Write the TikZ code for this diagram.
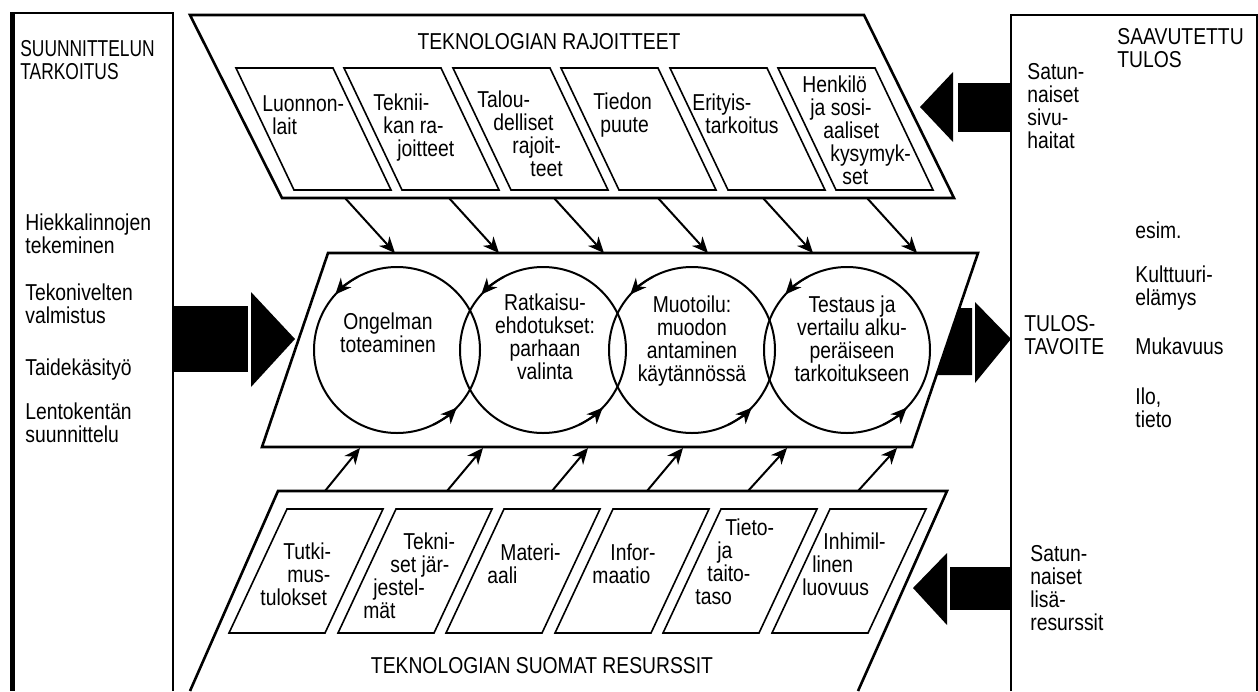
\documentclass[tikz,border=0pt]{standalone}
\usepackage{fontspec}
\setmainfont{Liberation Sans}[FakeStretch=0.84]
\usetikzlibrary{arrows.meta}
\newcommand\ind[1]{\hspace*{#1pt}}
\newcommand\narrow[1]{\scalebox{0.9}[1]{#1}}
\begin{document}
\begin{tikzpicture}[x=0.5pt,y=-0.5pt,
  frame/.style={line width=1.3pt, line join=miter},
  inbox/.style={line width=0.8pt},
  lbl/.style={inner sep=0pt, anchor=north west, align=left, font=\fontsize{11.5}{11.5}\selectfont},
  ctr/.style={inner sep=0pt, anchor=north, align=center, font=\fontsize{11.5}{11.5}\selectfont},
  flow/.style={line width=1pt, -{Stealth[length=8pt,width=7pt,inset=2.5pt]}},
  ring/.style={line width=1pt},
  blk/.style={fill=black, draw=none}
]
\useasboundingbox (0,0) rectangle (1258,691);

% side boxes
\draw[line width=1.2pt] (173,691) -- (173,13) -- (12,13);
\draw[line width=2.5pt] (12,12) -- (12,691);
\draw[line width=1.2pt] (1011,691) -- (1011,15) -- (1257,15) -- (1257,691);

% top parallelogram and its boxes
\draw[frame] (190,15) -- (864,15) -- (954,198) -- (282,198) -- cycle;
\foreach \L in {236,344,453,561,670,778}
  \draw[inbox] (\L,68) -- ++(97,0) -- ++(58,122) -- ++(-97,0) -- cycle;

% bottom parallelogram and its boxes
\draw[frame] (190,691) -- (278,491) -- (947,491) -- (858,691);
\foreach \L in {287,396,504,613,721,830}
  \draw[inbox] (\L,509) -- ++(96,0) -- ++(-58,124) -- ++(-96,0) -- cycle;

% middle parallelogram
\draw[frame] (262,447) -- (328,253) -- (978,253) -- (912,447) -- cycle;

% circles
\coordinate (c1) at (397,350);
\coordinate (c2) at (543,350);
\coordinate (c3) at (692,350);
\coordinate (c4) at (847,350);
\foreach \i in {1,2,3,4}{
  \draw[ring] (c\i) circle[radius=83];
  \draw[flow] ([shift={(-118:83)}]c\i) arc[start angle=-118, end angle=-138, radius=83];
  \draw[flow] ([shift={(64:83)}]c\i) arc[start angle=64, end angle=44, radius=83];
}

% small arrows top -> middle
\foreach \i/\a/\b in {1/345/395,2/449/499,3/554/604,4/658/708,5/763/813,6/867/917}{
  \coordinate (ts\i) at (\a,198);
  \coordinate (te\i) at (\b,253);
  \draw[flow] (ts\i) -- (te\i);
}
% small arrows bottom -> middle
\foreach \i/\a/\b in {1/325/360,2/447/483,3/552/588,4/647/683,5/748/787,6/858/897}{
  \coordinate (bs\i) at (\a,491);
  \coordinate (be\i) at (\b,448);
  \draw[flow] (bs\i) -- (be\i);
}

% big black arrows
\fill[blk] (173,306) rectangle (248,372);
\fill[blk] (251,292) -- (251,387) -- (295,339) -- cycle;
\fill[blk] (959,308) -- (972,308) -- (972,375) -- (936.5,375) -- cycle;
\fill[blk] (975,302) -- (975,383) -- (1011,339) -- cycle;
\fill[blk] (958,83) rectangle (1011,132);
\fill[blk] (953,72) -- (953,142) -- (920,107) -- cycle;
\fill[blk] (950,567) rectangle (1012,610);
\fill[blk] (947,553) -- (947,625) -- (913,588) -- cycle;

% titles
\node[ctr] (ttitle) at (549,33) {TEKNOLOGIAN RAJOITTEET};
\node[ctr] (btitle) at (542,657) {TEKNOLOGIAN SUOMAT RESURSSIT};

% top box texts
\node[lbl] (tb1) at (262,95) {Luonnon-\\\ind{5}lait};
\node[lbl] (tb2) at (373,93) {Teknii-\\\ind{5}kan ra-\\\ind{12}joitteet};
\node[lbl] (tb3) at (477,90) {Talou-\\\ind{8}delliset\\\ind{17.5}rajoit-\\\ind{26.5}teet};
\node[lbl] (tb4) at (593,92) {Tiedon\\\ind{3.5}puute};
\node[lbl] (tb5) at (692,93) {Erityis-\\\ind{6.5}tarkoitus};
\node[lbl] (tb6) at (802,75) {Henkilö\\\ind{4}ja sosi-\\\ind{10.5}aaliset\\\ind{14}kysymyk-\\\ind{20}set};

% bottom box texts
\node[lbl] (bb1) at (260,542) {\ind{11.5}Tutki-\\\ind{13.5}mus-\\tulokset};
\node[lbl] (bb2) at (363,532) {\ind{20}Tekni-\\\ind{13.5}set jär-\\\ind{5}jestel-\\mät};
\node[lbl] (bb3) at (487,543) {\ind{6.5}Materi-\\aali};
\node[lbl] (bb4) at (592,543) {\ind{9}Infor-\\maatio};
\node[lbl] (bb5) at (695,518) {\ind{15}Tieto-\\\ind{11}ja\\\ind{6}taito-\\taso};
\node[lbl] (bb6) at (802,532) {\ind{10.5}Inhimil-\\\ind{5}linen\\luovuus};

% circle texts
\node[ctr] (t1) at (388,312) {Ongelman\\toteaminen};
\node[ctr] (t2) at (545,293) {Ratkaisu-\\ehdotukset:\\parhaan\\valinta};
\node[ctr] (t3) at (692,295) {Muotoilu:\\muodon\\antaminen\\käytännössä};
\node[ctr] (t4) at (852,295) {Testaus ja\\vertailu alku-\\peräiseen\\tarkoitukseen};

% left box texts
\node[lbl] (lb0) at (20,40) {\narrow{SUUNNITTELUN}\\\narrow{TARKOITUS}};
\node[lbl] (lb1) at (25,213) {Hiekkalinnojen\\tekeminen};
\node[lbl] (lb2) at (25,283) {Tekonivelten\\valmistus};
\node[lbl] (lb3) at (25,358) {Taidekäsityö};
\node[lbl] (lb4) at (25,402) {Lentokentän\\suunnittelu};

% right box texts
\node[lbl] (rb0) at (1117,28) {SAAVUTETTU\\TULOS};
\node[lbl] (rb1) at (1027,63) {Satun-\\naiset\\sivu-\\haitat};
\node[lbl,anchor=base west] (rb2) at (1135,238) {esim.};
\node[lbl] (rb3) at (1135,265) {Kulttuuri-\\elämys};
\node[lbl] (rb4) at (1024,315) {TULOS-\\TAVOITE};
\node[lbl] (rb5) at (1135,337) {Mukavuus};
\node[lbl] (rb6) at (1135,387) {Ilo,\\tieto};
\node[lbl] (rb7) at (1030,545) {Satun-\\naiset\\lisä-\\resurssit};
\end{tikzpicture}
\end{document}
